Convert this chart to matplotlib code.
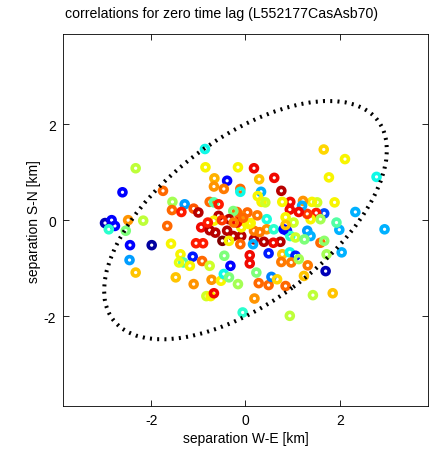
import matplotlib
matplotlib.use("Agg")
import matplotlib.pyplot as plt
from matplotlib.patches import Ellipse
import numpy as np

plt.rcParams['font.family'] = ['Liberation Sans', 'DejaVu Sans']
plt.rcParams['axes.unicode_minus'] = False

# separation W-E [km], separation S-N [km], correlation colour value (0..1, jet)
x = [-0.86, -2.33, -0.85, -0.16, 0.18, -2.61, -0.66, -0.39, -0.67, -0.46,
     -0.11, -0.11, 0.29, 0.33, 0.26, 0.34, 0.61, 0.76, -1.75, 1.66,
     2.11, 1.77, 2.78, 1.89, 2.33, 2.95, -1.55, -1.29, -1.10, -1.56,
     -1.36, -1.00, -0.76, -0.67, -0.57, -1.66, -2.49, -2.17, -2.98, -2.84,
     -2.77, -2.90, -2.54, -2.45, -1.99, -2.46, -2.33, -1.58, -1.38, -1.32,
     -1.41, -1.12, -1.18, -0.92, -0.76, -0.32, -0.45, -1.05, -0.90, -0.94,
     -0.76, -0.64, -1.48, -1.10, -0.72, -0.52, -0.46, -0.35, -0.16, -0.83,
     -0.74, -0.67, -0.06, 0.19, 0.09, 0.09, 0.23, 0.28, 0.49, 0.55,
     0.67, 0.85, 0.94, 0.49, 0.78, 0.76, 0.94, 1.06, 0.97, 1.13,
     1.32, 1.24, 1.70, 1.43, 1.85, 2.04, 1.72, 1.99, 1.93, 1.67,
     1.50, 1.52, 1.41, 1.59, 1.38, 1.31, 1.22, 1.20, 0.95, 0.78,
     0.94, 1.13, 0.85, 1.02, 0.88, 0.95, 1.06, 1.31, 1.38, 1.25,
     1.59, 1.67, 0.45, 0.45, 0.60, 0.74, 0.59, 0.39, 0.18, 0.16,
     0.18, 0.11, 0.04, -0.11, -0.18, -0.26, -0.35, -0.57, -0.67, -0.39,
     -0.49, -0.26, -0.09, -0.09, 0.07, -0.11, -0.35, -0.18, 0.81, 0.42,
     -0.50, -0.25, 0.30, -0.05, 0.85, 0.25, -0.80]
y = [1.48, 1.08, 1.10, 1.10, 1.08, 0.58, 0.87, 0.82, 0.70, 0.65,
     0.65, 0.59, 0.85, 0.59, 0.50, 0.38, 0.88, 0.61, 0.61, 1.47,
     1.27, 0.89, 0.90, 0.37, 0.17, -0.19, 0.38, 0.33, 0.24, 0.21,
     0.17, 0.16, 0.38, 0.37, 0.33, -0.12, 0.00, -0.01, -0.06, 0.00,
     -0.12, -0.19, -0.22, -0.52, -0.52, -0.83, -1.09, -0.49, -0.71, -0.88,
     -0.88, -0.76, -0.95, -0.85, -0.95, -0.95, -0.74, -0.48, -0.48, -0.15,
     -0.21, -0.26, -1.19, -1.33, -1.24, -1.26, -1.12, -1.19, -1.33, -1.58,
     -1.58, -1.52, -1.92, -1.63, -0.73, -0.90, -1.09, -1.31, -1.35, -1.18,
     -1.23, -1.37, -1.99, -0.69, -0.71, -0.87, -0.67, -0.74, -0.88, -0.81,
     -0.94, -1.16, -1.06, -1.56, -1.52, -0.67, -0.71, -0.20, -0.05, 0.14,
     0.15, 0.37, 0.38, 0.02, 0.02, 0.13, 0.40, 0.30, 0.38, 0.38,
     0.22, 0.17, 0.06, -0.05, -0.22, -0.33, -0.36, -0.22, -0.33, -0.40,
     -0.47, -0.43, 0.02, -0.19, -0.19, -0.45, -0.47, -0.45, -0.40, -0.50,
     -0.22, -0.06, 0.16, 0.09, 0.17, 0.19, 0.02, 0.09, -0.01, -0.22,
     -0.43, -0.33, -0.33, -0.15, -0.08, -0.50, -0.43, -0.05, -0.19, 0.37,
     0.00, -0.05, -0.25, 0.05, -0.10, 0.10, -0.05]
c = [0.37, 0.58, 0.65, 0.65, 0.90, 0.12, 0.72, 0.12, 0.75, 0.78,
     0.80, 0.37, 0.70, 0.30, 0.65, 0.65, 0.90, 0.95, 0.80, 0.68,
     0.65, 0.65, 0.37, 0.65, 0.30, 0.30, 0.55, 0.28, 0.82, 0.80,
     0.88, 0.95, 0.80, 0.45, 0.88, 0.80, 0.75, 0.58, 0.05, 0.12,
     0.12, 0.40, 0.50, 0.12, 0.03, 0.28, 0.70, 0.65, 0.65, 0.45,
     0.63, 0.15, 0.65, 0.80, 0.60, 0.12, 0.50, 0.88, 0.88, 0.90,
     0.95, 0.95, 0.70, 0.75, 0.75, 0.65, 0.37, 0.50, 0.55, 0.60,
     0.65, 0.90, 0.40, 0.75, 0.90, 0.90, 0.50, 0.80, 0.80, 0.25,
     0.68, 0.80, 0.58, 0.15, 0.70, 0.78, 0.37, 0.15, 0.78, 0.55,
     0.78, 0.70, 0.05, 0.58, 0.70, 0.30, 0.55, 0.30, 0.45, 0.20,
     0.88, 0.60, 0.65, 0.55, 0.65, 0.85, 0.75, 0.30, 0.90, 0.65,
     0.90, 0.90, 0.65, 0.60, 0.15, 0.40, 0.60, 0.28, 0.30, 0.50,
     0.80, 0.52, 0.38, 0.75, 0.40, 0.95, 0.90, 0.95, 0.95, 0.30,
     0.78, 0.65, 0.80, 0.75, 0.80, 0.50, 0.95, 0.95, 0.65, 0.95,
     1.00, 0.95, 0.95, 0.65, 0.65, 0.80, 0.65, 0.90, 0.12, 0.60,
     0.85, 0.78, 0.78, 0.80, 0.70, 0.78, 0.88]

# ellipse (semi-axes in km, orientation in degrees)
ell_a = 3.49
ell_b = 1.72
ell_angle = 36.0

fig = plt.figure(figsize=(4.38, 4.56), dpi=100)
ax = fig.add_axes([0.144, 0.107, 0.833, 0.816])

n = min(len(x), len(y), len(c))
ax.scatter(x[:n], y[:n], s=25, facecolors='none',
           edgecolors=plt.cm.jet(np.array(c[:n])), linewidths=2.6, zorder=2)

e = Ellipse((0, 0), 2 * ell_a, 2 * ell_b, angle=ell_angle, fill=False,
            edgecolor='black', linewidth=2.9, linestyle=(0, (0.5, 1.3)),
            capstyle='butt', zorder=3)
ax.add_patch(e)

ax.set_xlim(-3.87, 3.87)
ax.set_ylim(-3.87, 3.87)
ax.set_xticks([-2, 0, 2])
ax.set_yticks([-2, 0, 2])
ax.tick_params(direction='in', top=True, right=True, length=4, width=0.6,
               labelsize=10, pad=5)
for sp in ax.spines.values():
    sp.set_linewidth(0.6)
ax.set_xlabel('separation W-E [km]', fontsize=10, labelpad=3)
ax.set_ylabel('separation S-N [km]', fontsize=10, labelpad=2)
fig.text(0.505, 0.969, 'correlations for zero time lag (L552177CasAsb70)',
         fontsize=10.2, ha='center', va='center')

fig.savefig('out.png', dpi=100)
